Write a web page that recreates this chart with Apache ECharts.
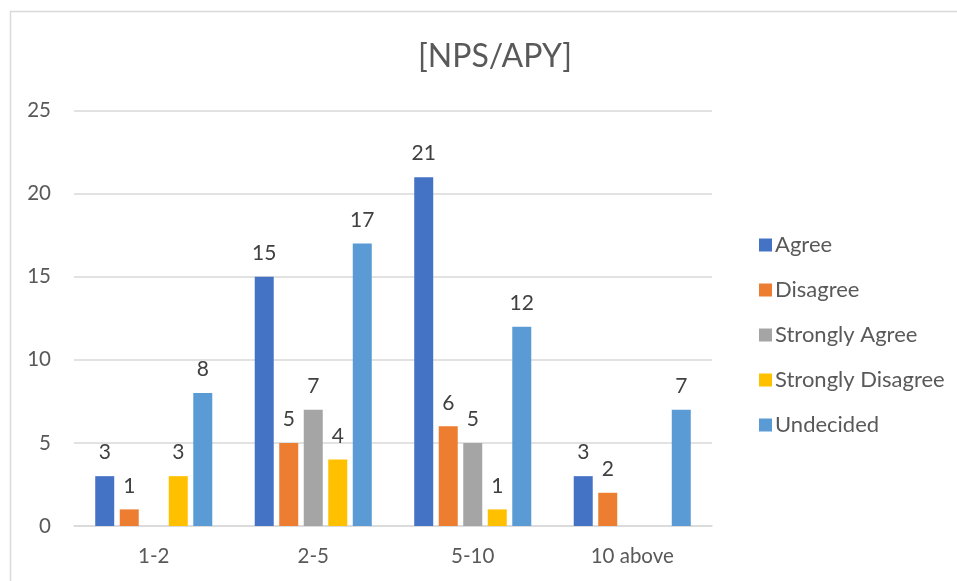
<!DOCTYPE html>
<html>
<head>
<meta charset="utf-8">
<script src="https://cdn.jsdelivr.net/npm/echarts@6/dist/echarts.min.js"></script>
<style>
  html, body { margin: 0; padding: 0; background: #fff; }
  #chart { width: 957px; height: 581px; }
</style>
</head>
<body>
<div id="chart"></div>
<script>
// Years-of-experience groups and the response counts for each answer
const categories = ['1-2', '2-5', '5-10', '10 above'];
const seriesNames = ['Agree', 'Disagree', 'Strongly Agree', 'Strongly Disagree', 'Undecided'];
const agree = [3, 15, 21, 3];
const disagree = [1, 5, 6, 2];
const stronglyAgree = [null, 7, 5, null];
const stronglyDisagree = [3, 4, 1, null];
const undecided = [8, 17, 12, 7];
const yTicks = { min: 0, max: 25, interval: 5 };

const colors = ['#4472C4', '#ED7D31', '#A5A5A5', '#FFC000', '#5B9BD5'];
const values = [agree, disagree, stronglyAgree, stronglyDisagree, undecided];
const FONT = 'Lato';

const chart = echarts.init(document.getElementById('chart'));
chart.setOption({
  animation: false,
  textStyle: { fontFamily: FONT },
  title: {
    text: '[NPS/APY]',
    left: 490,
    top: 36,
    textAlign: 'center',
    textStyle: { fontFamily: FONT, fontSize: 32, fontWeight: 'normal', color: '#595959' }
  },
  graphic: [{
    type: 'rect',
    shape: { x: 10.5, y: 11.5, width: 1000, height: 700 },
    style: { fill: 'none', stroke: '#d9d9d9', lineWidth: 1.5 },
    silent: true,
    z: -1
  }],
  legend: {
    orient: 'vertical',
    left: 754,
    top: 229,
    itemWidth: 13,
    itemHeight: 13,
    itemGap: 23,
    icon: 'rect',
    data: seriesNames,
    textStyle: { fontFamily: FONT, fontSize: 22, color: '#595959', padding: [0, 0, 0, -2] }
  },
  grid: { left: 74, right: 245, top: 110.7, bottom: 55, containLabel: false },
  xAxis: {
    type: 'category',
    data: categories,
    axisTick: { show: false },
    axisLine: { lineStyle: { color: '#d9d9d9', width: 1.5 } },
    axisLabel: { fontFamily: FONT, fontSize: 20.5, color: '#595959', margin: 20 }
  },
  yAxis: {
    type: 'value',
    min: yTicks.min,
    max: yTicks.max,
    interval: yTicks.interval,
    axisLine: { show: false },
    axisTick: { show: false },
    splitLine: { lineStyle: { color: '#d9d9d9', width: 1.5 } },
    axisLabel: { fontFamily: FONT, fontSize: 20.5, color: '#595959', margin: 23 }
  },
  series: seriesNames.map((name, i) => ({
    name: name,
    type: 'bar',
    data: values[i],
    barWidth: 19,
    barGap: '29%',
    itemStyle: { color: colors[i] },
    label: {
      show: true,
      position: 'top',
      distance: 13,
      fontFamily: FONT,
      fontSize: 21,
      color: '#404040'
    }
  }))
});
</script>
</body>
</html>
